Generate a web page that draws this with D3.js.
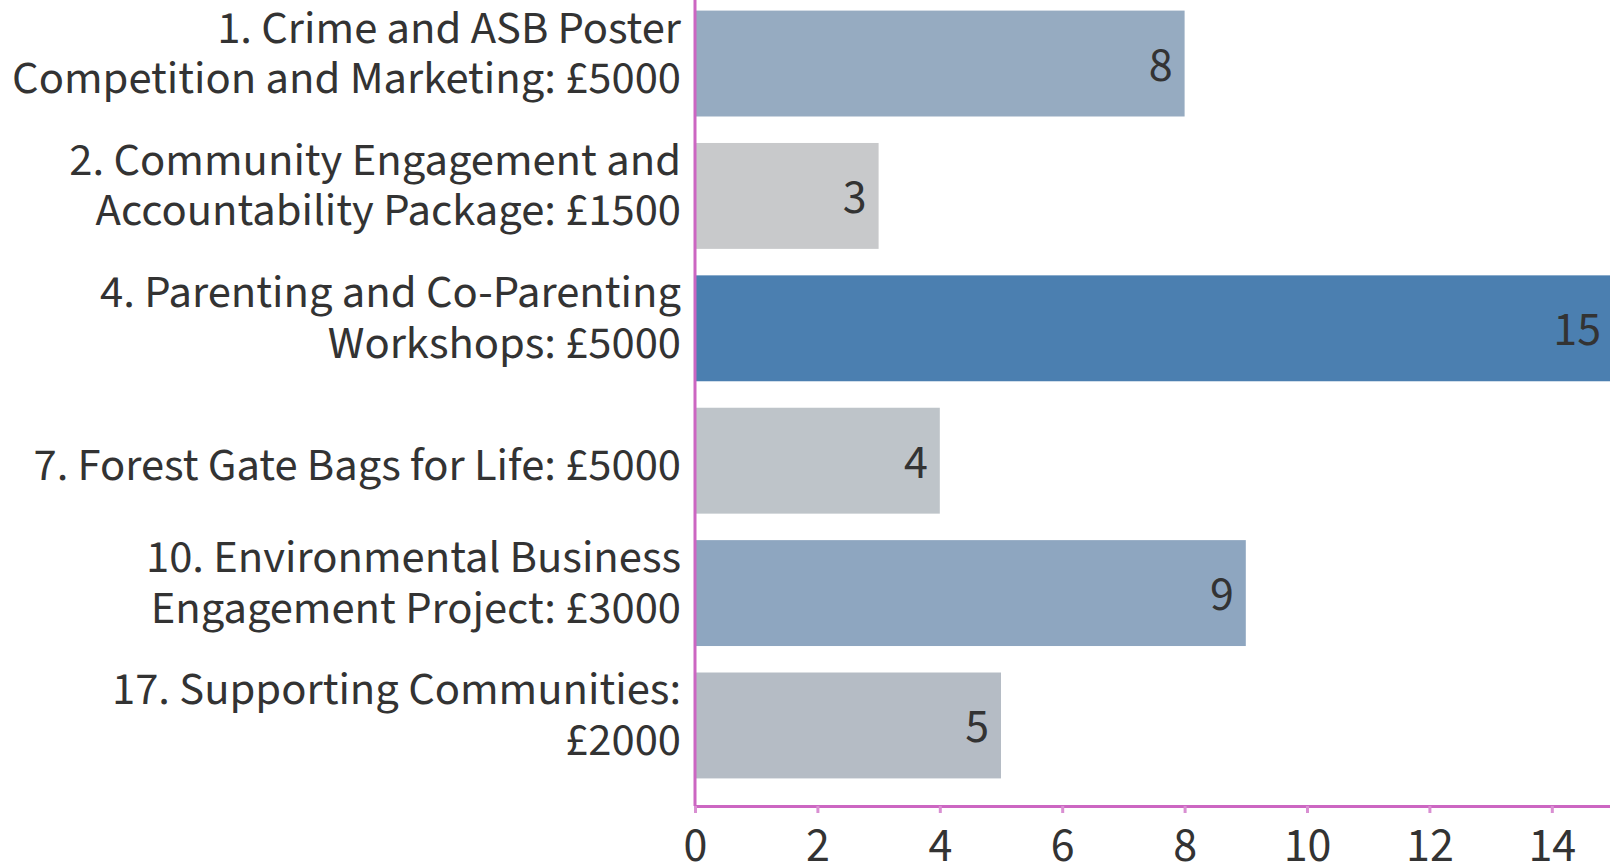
<!DOCTYPE html>
<html>
<head>
<meta charset="utf-8">
<script src="https://cdn.jsdelivr.net/npm/d3@7"></script>
<style>
  html, body { margin: 0; padding: 0; background: #fff; }
  svg { display: block; }
  text { font-family: "Source Sans Pro", "Source Sans 3", "Liberation Sans Narrow", "DejaVu Sans Condensed", sans-serif; fill: #333; }
</style>
</head>
<body>
<svg id="chart" width="1610" height="862"></svg>
<script>
const categories = [
  "1. Crime and ASB Poster\nCompetition and Marketing: £5000",
  "2. Community Engagement and\nAccountability Package: £1500",
  "4. Parenting and Co-Parenting\nWorkshops: £5000",
  "7. Forest Gate Bags for Life: £5000",
  "10. Environmental Business\nEngagement Project: £3000",
  "17. Supporting Communities:\n£2000"
];
const votes = [8, 3, 15, 4, 9, 5];
const barColors = ["#96abc1", "#c8c9cb", "#4b7fb0", "#bec4c9", "#8ea6c0", "#b5bcc5"];
const xTicks = [0, 2, 4, 6, 8, 10, 12, 14];
const xMax = 15;

const svg = d3.select("#chart");
const axisX = 695, axisY = 806;
const axisColor = "#cc66c2";
const fontSize = 46.6;

const x = d3.scaleLinear().domain([0, xMax]).range([axisX, 1613]);
const y = d3.scaleBand().domain(categories).range([0, 789]).paddingInner(0.2).paddingOuter(0.08);

// bars
svg.append("g").selectAll("rect").data(categories).join("rect")
  .attr("x", x(0))
  .attr("y", d => y(d))
  .attr("width", (d, i) => x(votes[i]) - x(0))
  .attr("height", y.bandwidth())
  .attr("fill", (d, i) => barColors[i]);

// value labels
svg.append("g").selectAll("text").data(categories).join("text")
  .attr("x", (d, i) => x(votes[i]) - 12)
  .attr("y", d => y(d) + y.bandwidth() / 2 + 17)
  .attr("text-anchor", "end")
  .style("font-size", "48px")
  .text((d, i) => votes[i]);

// left axis
const gy = svg.append("g").attr("transform", `translate(${axisX},0)`)
  .call(d3.axisLeft(y).tickSize(0).tickSizeOuter(0).tickPadding(16).tickFormat(""));
gy.select(".domain").remove();
gy.append("line").attr("x1", 0).attr("x2", 0).attr("y1", 0).attr("y2", axisY)
  .attr("stroke", axisColor).attr("stroke-width", 3);

// category labels
const lab = svg.append("g").selectAll("text").data(categories).join("text")
  .attr("text-anchor", "end")
  .style("font-size", fontSize + "px")
  .attr("transform", d => `translate(${axisX - 14},${y(d) + y.bandwidth() / 2})`);
lab.each(function(d) {
  const lines = d.split("\n");
  const t = d3.select(this);
  lines.forEach((ln, k) => {
    t.append("tspan").attr("x", 0)
      .attr("y", 19 - (lines.length - 1) * 40 + k * 50.5)
      .text(ln);
  });
});

// bottom axis
const gx = svg.append("g").attr("transform", `translate(0,${axisY})`)
  .call(d3.axisBottom(x).tickValues(xTicks).tickSize(7).tickSizeOuter(0).tickPadding(16).tickFormat(d3.format("d")));
gx.select(".domain").attr("stroke", axisColor).attr("stroke-width", 3);
gx.selectAll(".tick line").attr("stroke", "#d98fd2").attr("stroke-width", 3);
gx.selectAll(".tick text")
  .attr("y", null).attr("dy", null)
  .attr("y", 55)
  .style("font-size", "48px")
  .attr("fill", "#333");
</script>
</body>
</html>
